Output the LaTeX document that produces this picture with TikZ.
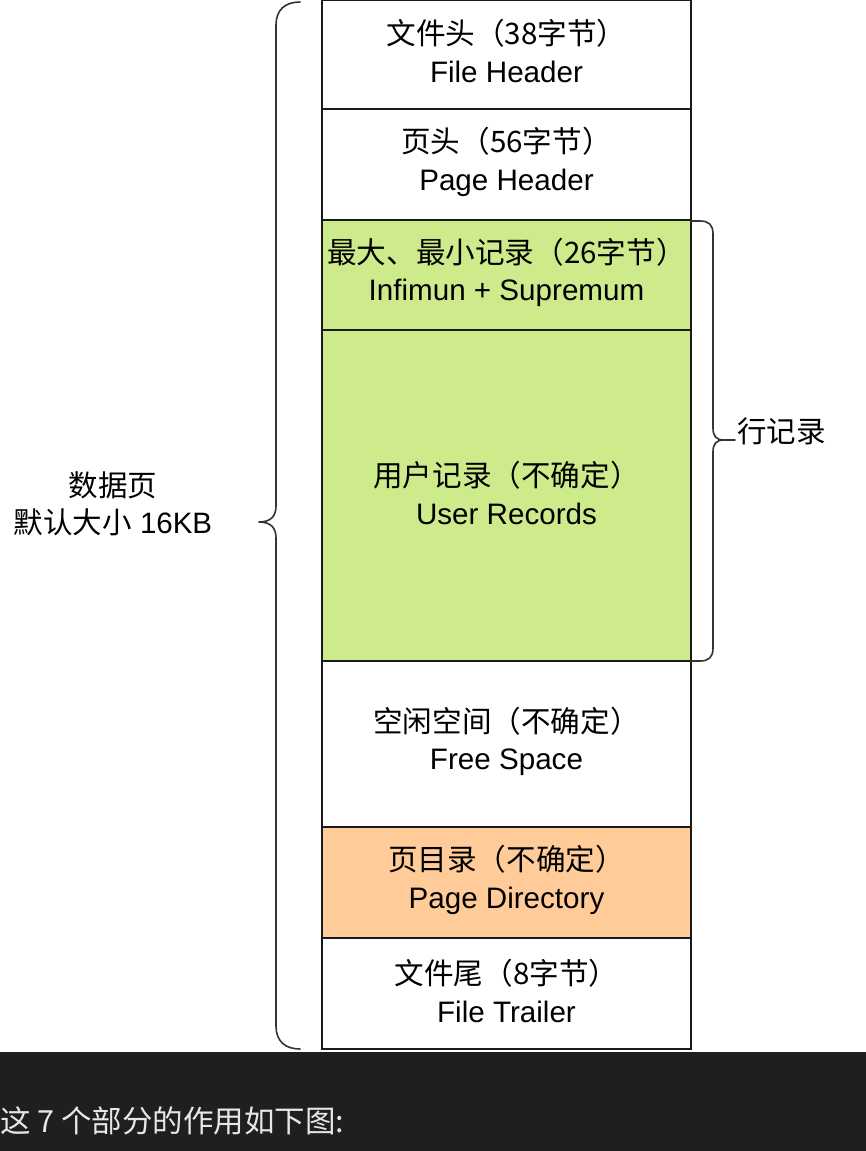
\documentclass[tikz,border=0pt]{standalone}
\usepackage{fontspec}
\setmainfont{Liberation Sans}
\newfontfamily\cjk{Noto Sans CJK SC}
\definecolor{recgreen}{HTML}{CDEB8B}
\definecolor{dirorange}{HTML}{FFCC99}
\definecolor{barbg}{HTML}{1F1F1F}
\definecolor{bartext}{HTML}{E6E6E6}
\definecolor{edge}{HTML}{1A1A1A}
\definecolor{bracecol}{HTML}{333333}
\tikzset{
  row/.style={draw=edge, line width=1.6pt, minimum width=369pt, inner sep=0pt},
  rowtext/.style={inner sep=0pt, align=center, font=\fontsize{29.6}{37.5}\selectfont, text=black},
  bracepath/.style={draw=bracecol, line width=1.6pt, line cap=round, line join=round},
  lbl/.style={align=center, font=\fontsize{29.5}{36.5}\selectfont, inner sep=0pt, text=black}
}
\begin{document}
\begin{tikzpicture}[x=1pt,y=-1pt]
\useasboundingbox (0,0) rectangle (866,1151);
\fill[white] (0,0) rectangle (866,1052);
% rows
\node[row, minimum height=109pt] (r1) at (506.5,54.5) {};
\node[row, minimum height=111pt] (r2) at (506.5,164.5) {};
\node[row, fill=recgreen, minimum height=110pt] (r3) at (506.5,275) {};
\node[row, fill=recgreen, minimum height=331pt] (r4) at (506.5,495.5) {};
\node[row, minimum height=166pt] (r5) at (506.5,744) {};
\node[row, fill=dirorange, minimum height=111pt] (r6) at (506.5,882.5) {};
\node[row, minimum height=111pt] (r7) at (506.5,993.5) {};
\node[rowtext] (t1) at ([yshift=3.5pt]r1.center) {{\cjk 文件头（38字节）}\\File Header};
\node[rowtext] (t2) at ([yshift=2.5pt]r2.center) {{\cjk 页头（56字节）}\\Page Header};
\node[rowtext] (t3) at ([yshift=2.5pt]r3.center) {{\cjk 最大、最小记录（26字节）}\\Infimun + Supremum};
\node[rowtext] (t4) at ([yshift=2.5pt]r4.center) {{\cjk 用户记录（不确定）}\\User Records};
\node[rowtext] (t5) at ([yshift=2.5pt]r5.center) {{\cjk 空闲空间（不确定）}\\Free Space};
\node[rowtext] (t6) at ([yshift=2.5pt]r6.center) {{\cjk 页目录（不确定）}\\Page Directory};
\node[rowtext] (t7) at ([yshift=2.5pt]r7.center) {{\cjk 文件尾（8字节）}\\File Trailer};
% left brace
\draw[bracepath] (300,2) .. controls (285,2) and (276,10) .. (276,25) -- (276,506)
  .. controls (276,516) and (271,522) .. (259,522)
  .. controls (271,522) and (276,528) .. (276,538) -- (276,1026)
  .. controls (276,1041) and (285,1049) .. (300,1049);
\node[lbl] (datapage) at (113,504) {{\cjk 数据页}\\{\cjk 默认大小} 16KB};
% right brace
\draw[bracepath] (691,221) -- (700,221) .. controls (709,221) and (713,225) .. (713,234) -- (713,428)
  .. controls (713,436) and (716,440) .. (724,440) -- (735,440);
\draw[bracepath] (724,440) .. controls (716,440) and (713,444) .. (713,452) -- (713,648)
  .. controls (713,657) and (709,661) .. (700,661) -- (691,661);
\node[lbl, anchor=west] (rowrec) at (737,431) {\cjk 行记录};
% bottom bar
\fill[barbg] (0,1052) rectangle (866,1151);
\node[anchor=west, inner sep=0pt, text=bartext, font=\cjk\fontsize{30.5}{34}\selectfont] (caption) at (0,1121) {这 7 个部分的作用如下图:};
\end{tikzpicture}
\end{document}
